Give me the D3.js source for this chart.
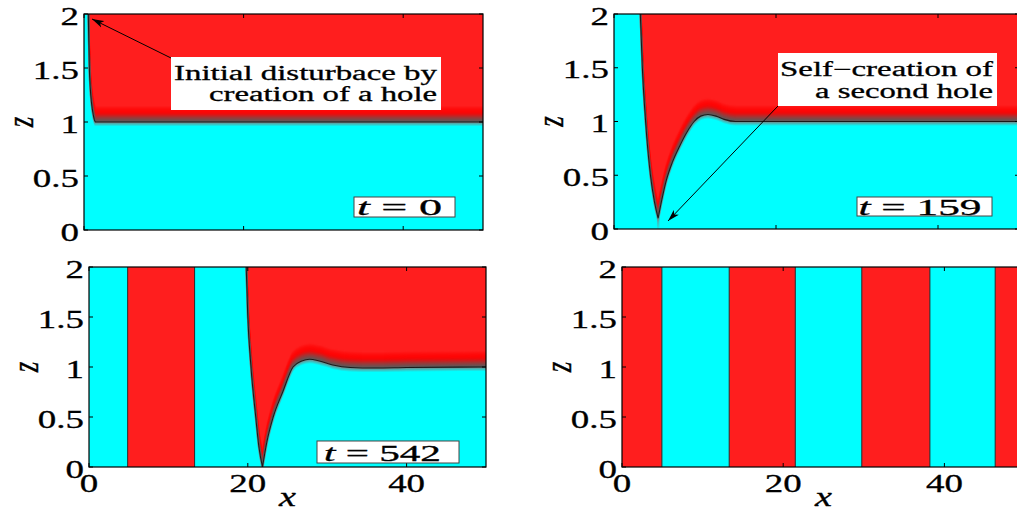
<!DOCTYPE html>
<html><head><meta charset="utf-8">
<script src="https://cdn.jsdelivr.net/npm/d3@7"></script>
<style>body{margin:0;background:#fff}svg{display:block}text{font-family:"Liberation Serif","Times New Roman",serif;fill:#000;stroke:#000;stroke-width:0.3px}</style>
</head><body><svg id="c" width="1017" height="512"></svg>
<script>
// ---------------- data ----------------
const xDomain=[0,50];
const zDomain=[0,2];
const xTicks=[0,20,40];
const xTickLabels=["0","20","40"];
const zTicks=[0,0.5,1,1.5,2];
const zTickLabels=["0","0.5","1","1.5","2"];
const times=["0","159","542",null];
// interface z(x) for each snapshot (null = none)
const ifaceX0=[0.54,0.6,0.67,0.78,0.95,1.15,1.3,1.42,50];
const ifaceZ0=[2,1.75,1.5,1.32,1.17,1.07,1.02,1.0,1.0];
const ifaceX1=[3.25,3.5,3.9,4.5,5.0,5.45,5.9,6.45,7.2,8.1,9.0,9.9,10.7,11.6,12.6,13.6,15,50];
const ifaceZ1=[2,1.5,1.0,0.5,0.25,0.1,0.27,0.45,0.62,0.77,0.9,1.0,1.05,1.065,1.05,1.02,1.0,1.0];
const ifaceX2=[19.8,20.0,20.4,21.0,21.4,21.85,22.4,23.2,24.4,25.7,26.8,27.8,29,30.7,32.9,36,40,50];
const ifaceZ2=[2,1.5,1.0,0.5,0.2,0.0,0.25,0.5,0.75,1.0,1.06,1.077,1.06,1.02,0.995,0.99,0.995,1.0];
// vertical stripe boundaries (x) and colour of first stripe
const stripes0=[], stripes1=[];
const stripes2=[4.87,13.3];
const stripes3=[4.95,13.3,21.5,29.75,38.2,46.3];
const firstStripe=["cyan","cyan","cyan","red"];
const annotations=[
  {panel:0,lines:["Initial disturbace by","creation of a hole"]},
  {panel:1,lines:["Self\u2212creation of","a second hole"]}
];

// ---------------- layout ----------------
const RED="#ff1e1e", CYAN="#00ffff";
const layout=[
  {x:84,y:14,w:399,h:216,tbox:[354,197,101,20],tx:357,tw:85,tb:215,xlab:false},
  {x:614,y:14,w:405,h:215,tbox:[857,197,135,19],tx:858.5,tw:123,tb:214.5,xlab:false},
  {x:89,y:267,w:397,h:200,tbox:[317,441,142,22],tx:324,tw:117,tb:461,xlab:true},
  {x:622,y:267,w:403,h:200,tbox:null,xlab:true}
];
const annLayout=[
  {box:[171,57,270,53],right:437,base:[80,101],widths:[263,228],tail:[171,58],tip:[92,19]},
  {box:[778,53,219,53],right:993,base:[76,98],widths:[213,178],tail:[778,106],tip:[668,221]}
];
const ifaces=[[ifaceX0,ifaceZ0],[ifaceX1,ifaceZ1],[ifaceX2,ifaceZ2],null];
const stripes=[stripes0,stripes1,stripes2,stripes3];
const SX=1.42;

const svg=d3.select("#c");
const defs=svg.append("defs");
defs.append("marker").attr("id","arr").attr("viewBox","0 0 12 8").attr("refX",12).attr("refY",4)
  .attr("markerWidth",12).attr("markerHeight",8).attr("markerUnits","userSpaceOnUse").attr("orient","auto")
  .append("path").attr("d","M0,0.5 L12,4 L0,7.5 L3,4 Z").attr("fill","#000");
const lg=defs.append("linearGradient").attr("id","tipfade").attr("x1",0).attr("x2",0).attr("y1",0).attr("y2",1);
lg.append("stop").attr("offset",0).attr("stop-color","#6f8f8f").attr("stop-opacity",0.8);
lg.append("stop").attr("offset",1).attr("stop-color","#6f8f8f").attr("stop-opacity",0.15);

const shadeRed=d3.interpolateRgbBasis(["#5a5a5a","#9a3a3a","#ff0000","#ff0808","#ff1e1e"]);
const shadeCyan=d3.interpolateRgb("#6f8f8f","#00ffff");

layout.forEach((L,i)=>{
  const g=svg.append("g").attr("transform",`translate(${L.x},${L.y})`);
  const xs=d3.scaleLinear().domain(xDomain).range([0,L.w]);
  const zs=d3.scaleLinear().domain(zDomain).range([L.h,0]);
  const cid="clip"+i;
  defs.append("clipPath").attr("id",cid).append("rect").attr("width",L.w).attr("height",L.h);
  const body=g.append("g").attr("clip-path",`url(#${cid})`);
  // stripes
  const b=[xDomain[0],...stripes[i],xDomain[1]];
  for(let k=0;k<b.length-1;k++){
    const red=(firstStripe[i]==="red")===(k%2===0);
    body.append("rect").attr("x",xs(b[k])).attr("y",0).attr("width",xs(b[k+1])-xs(b[k])+0.5)
      .attr("height",L.h).attr("fill",red?RED:CYAN);
  }
  // interface
  if(ifaces[i]){
    const [X,Z]=ifaces[i];
    const pts=X.map((x,j)=>[xs(x),zs(Z[j])]);
    const tip=Z.indexOf(d3.min(Z));
    const line=d3.line().curve(d3.curveMonotoneX);
    const cpath=line(pts.slice(0,tip+1))+line(pts.slice(tip)).replace(/^M/,"L");
    const last=pts[pts.length-1];
    const redPoly=cpath+`L${last[0]+5},${last[1]}L${last[0]+5},-5L${pts[0][0]},-5Z`;
    const rc="red"+i, cc="cyan"+i;
    defs.append("clipPath").attr("id",rc).append("path").attr("d",redPoly);
    defs.append("clipPath").attr("id",cc).append("path").attr("clip-rule","evenodd")
      .attr("d",`M${xs(stripes[i].length?stripes[i][stripes[i].length-1]:0)},-5H${L.w+5}V${L.h+5}H-5V-5Z`+redPoly);
    body.append("path").attr("d",redPoly).attr("fill",RED);
    const gr=body.append("g").attr("clip-path",`url(#${rc})`);
    const K=16;
    for(let k=K;k>=0;k--){
      gr.append("path").attr("d",cpath).attr("transform",`translate(0,${-k})`)
        .attr("fill","none").attr("stroke",shadeRed(k/K)).attr("stroke-width",1.8);
    }
    const gc=body.append("g").attr("clip-path",`url(#${cc})`);
    const KC=4;
    for(let k=KC;k>=0;k--){
      gc.append("path").attr("d",cpath).attr("transform",`translate(0,${k})`)
        .attr("fill","none").attr("stroke",shadeCyan(k/KC)).attr("stroke-width",1.8);
    }
    // faint trace below a V tip that has not reached the bottom yet
    if(Z[tip]>0 && tip+1<Z.length && Z[tip+1]>Z[tip]){
      body.append("rect").attr("x",pts[tip][0]-1.2).attr("y",pts[tip][1]).attr("width",2.4)
        .attr("height",L.h-pts[tip][1]).attr("fill","url(#tipfade)");
    }
    body.append("path").attr("d",cpath).attr("fill","none").attr("stroke","#1a1a1a").attr("stroke-width",1.1);
  }
  // stripe boundary lines
  stripes[i].forEach(s=>{
    body.append("line").attr("x1",xs(s)).attr("x2",xs(s)).attr("y1",0).attr("y2",L.h)
      .attr("stroke","#2a2a2a").attr("stroke-width",1);
  });
  // frame
  g.append("rect").attr("width",L.w).attr("height",L.h).attr("fill","none").attr("stroke","#000").attr("stroke-width",1.2);
  // ticks
  const tk=g.append("g").attr("stroke","#000").attr("stroke-width",1);
  xTicks.forEach(t=>{
    tk.append("line").attr("x1",xs(t)).attr("x2",xs(t)).attr("y1",L.h).attr("y2",L.h-4);
    tk.append("line").attr("x1",xs(t)).attr("x2",xs(t)).attr("y1",0).attr("y2",4);
  });
  zTicks.forEach(t=>{
    tk.append("line").attr("x1",0).attr("x2",4).attr("y1",zs(t)).attr("y2",zs(t));
    tk.append("line").attr("x1",L.w).attr("x2",L.w-4).attr("y1",zs(t)).attr("y2",zs(t));
  });
  // tick labels
  zTicks.forEach((t,j)=>{
    g.append("text").attr("transform",`translate(-5,${zs(t)+10.5}) scale(${SX},1)`)
      .attr("text-anchor","end").attr("font-size",26).text(zTickLabels[j]);
  });
  if(L.xlab){
    xTicks.forEach((t,j)=>{
      g.append("text").attr("transform",`translate(${xs(t)},${L.h+25}) scale(${SX},1)`)
        .attr("text-anchor","middle").attr("font-size",26).text(xTickLabels[j]);
    });
    g.append("text").attr("transform",`translate(${L.w/2},${L.h+39}) scale(${SX},1)`)
      .attr("text-anchor","middle").attr("font-size",27).attr("font-style","italic").text("x");
  }
  g.append("text").attr("transform",`translate(${-64},${L.h/2}) scale(${SX},1) rotate(-90)`)
    .attr("text-anchor","middle").attr("dominant-baseline","central")
    .attr("font-size",27).attr("font-style","italic").text("z");
  // time label
  if(times[i]!==null && L.tbox){
    const [bx,by,bw,bh]=L.tbox;
    svg.append("rect").attr("x",bx).attr("y",by).attr("width",bw).attr("height",bh)
      .attr("fill","#fff").attr("stroke","#444").attr("stroke-width",1);
    const t=svg.append("text").attr("x",L.tx).attr("y",L.tb).attr("font-size",23)
      .attr("textLength",L.tw).attr("lengthAdjust","spacingAndGlyphs");
    t.append("tspan").attr("font-style","italic").text("t");
    t.append("tspan").text(" = "+times[i]);
  }
});

// annotations
annotations.forEach((a,i)=>{
  const A=annLayout[i];
  svg.append("line").attr("x1",A.tail[0]).attr("y1",A.tail[1]).attr("x2",A.tip[0]).attr("y2",A.tip[1])
    .attr("stroke","#000").attr("stroke-width",1).attr("marker-end","url(#arr)");
  svg.append("rect").attr("x",A.box[0]).attr("y",A.box[1]).attr("width",A.box[2]).attr("height",A.box[3]).attr("fill","#fff");
  a.lines.forEach((ln,j)=>{
    svg.append("text").attr("x",A.right-A.widths[j]).attr("y",A.base[j]).attr("font-size",20)
      .attr("textLength",A.widths[j]).attr("lengthAdjust","spacingAndGlyphs").text(ln);
  });
});
</script></body></html>
